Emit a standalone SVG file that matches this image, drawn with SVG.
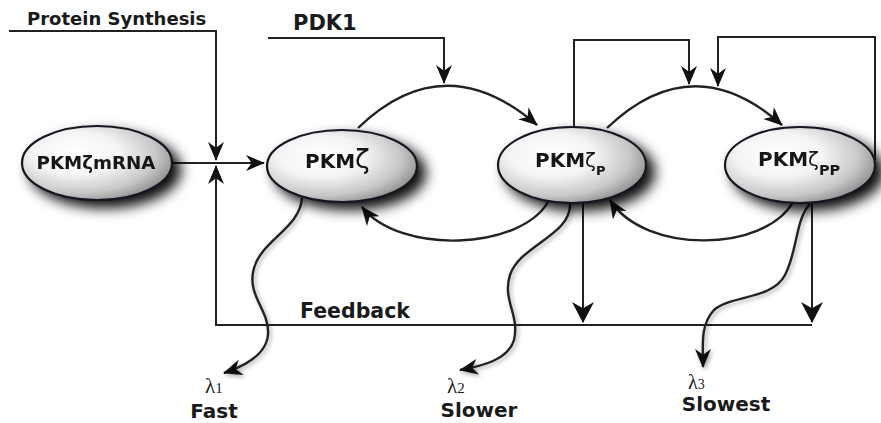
<svg xmlns="http://www.w3.org/2000/svg" width="881" height="423" viewBox="0 0 881 423">
<style>
.ln{fill:none;stroke:#222;stroke-width:2}
.arc{fill:none;stroke:#222;stroke-width:2.4}
.lbl{font-family:"DejaVu Sans",sans-serif;font-weight:bold;fill:#1a1a1a}
.lam{font-family:"Liberation Serif",serif;fill:#1a1a1a}
.node ellipse{fill:url(#eg);stroke:#141420;stroke-width:2.2}
.nt{font-family:"DejaVu Sans",sans-serif;font-weight:bold;fill:#141414}
.zeta{font-family:"DejaVu Sans",sans-serif;font-weight:normal}
</style>
<defs>
<radialGradient id="eg" cx="0.38" cy="0.4" r="0.72" fx="0.35" fy="0.35">
<stop offset="0" stop-color="#ffffff"/>
<stop offset="0.4" stop-color="#f4f4f4"/>
<stop offset="0.72" stop-color="#c8c8c8"/>
<stop offset="1" stop-color="#7a7a7a"/>
</radialGradient>
<filter id="sh" x="-30%" y="-40%" width="170%" height="190%">
<feGaussianBlur in="SourceAlpha" stdDeviation="6.5"/>
<feOffset dx="8" dy="7" result="b"/>
<feFlood flood-color="#000" flood-opacity="0.95"/>
<feComposite in2="b" operator="in"/>
<feMerge><feMergeNode/><feMergeNode in="SourceGraphic"/></feMerge>
</filter>
<filter id="lsh" x="-20%" y="-20%" width="140%" height="140%">
<feGaussianBlur in="SourceAlpha" stdDeviation="2"/>
<feOffset dx="2" dy="2" result="b"/>
<feFlood flood-color="#000" flood-opacity="0.35"/>
<feComposite in2="b" operator="in"/>
<feMerge><feMergeNode/><feMergeNode in="SourceGraphic"/></feMerge>
</filter>
<marker id="ah" viewBox="0 0 20 18" refX="19" refY="9" markerWidth="19" markerHeight="16" markerUnits="userSpaceOnUse" orient="auto" preserveAspectRatio="none">
<path d="M0,0 L20,9 L0,18 L6,9 Z" fill="#111"/>
</marker>
<marker id="ahb" viewBox="0 0 20 18" refX="19" refY="9" markerWidth="21" markerHeight="22" markerUnits="userSpaceOnUse" orient="auto" preserveAspectRatio="none">
<path d="M0,0 L20,9 L0,18 L6,9 Z" fill="#111"/>
</marker>
</defs>
<rect width="881" height="423" fill="#fff"/>

<g id="connectors">
<path class="ln" d="M9,31 H216 V160" marker-end="url(#ah)"/>
<path class="ln" d="M268,38 H444 V83" marker-end="url(#ah)"/>
<path class="ln" d="M172,163 H264" marker-end="url(#ah)"/>
<path class="ln" d="M812,325 H216 V166" marker-end="url(#ah)"/>
<path class="ln" d="M574,128 V40 H689 V84" marker-end="url(#ah)"/>
<path class="ln" d="M875,160 V37 H718 V86" marker-end="url(#ah)"/>
<path class="ln" d="M583,203 V322" marker-end="url(#ahb)"/>
<path class="ln" d="M812,203 V322" marker-end="url(#ahb)"/>
<path class="arc" d="M358,128 Q444,45 537,125" marker-end="url(#ah)"/>
<path class="arc" d="M607,128 Q693,46 782,125" marker-end="url(#ah)"/>
<path class="arc" d="M548,202 C520,250 400,255 362,207" marker-end="url(#ah)"/>
<path class="arc" d="M793,202 C765,252 645,255 610,200" marker-end="url(#ah)"/>
<g filter="url(#lsh)">
<path class="arc" d="M302,198 C300,228 262,240 254,268 C246,296 270,310 268,335 C266,355 245,366 224,373" marker-end="url(#ah)"/>
<path class="arc" d="M570,203 C572,235 520,245 510,275 C502,300 520,315 514,340 C508,360 482,366 460,370" marker-end="url(#ah)"/>
<path class="arc" d="M810,204 C795,220 798,250 785,275 C772,300 730,295 714,310 C700,325 703,345 703,367" marker-end="url(#ah)"/>
</g>
</g>

<g id="node-mrna" class="node" filter="url(#sh)">
<ellipse cx="97" cy="163" rx="75" ry="37"/>
<text class="nt" x="96" y="169" font-size="17.5" text-anchor="middle" textLength="119" lengthAdjust="spacingAndGlyphs">PKMζmRNA</text>
</g>
<g id="node-pkmz" class="node" filter="url(#sh)">
<ellipse cx="342" cy="166" rx="75" ry="36"/>
<text class="nt" x="305" y="168" font-size="20">PKM<tspan class="zeta" font-size="27">ζ</tspan></text>
</g>
<g id="node-pkmzp" class="node" filter="url(#sh)">
<ellipse cx="572" cy="165" rx="74" ry="38"/>
<text class="nt" x="535" y="167" font-size="20">PKM<tspan class="zeta" font-size="20">ζ</tspan><tspan font-size="13" dy="8">P</tspan></text>
</g>
<g id="node-pkmzpp" class="node" filter="url(#sh)">
<ellipse cx="800" cy="165" rx="75" ry="38"/>
<text class="nt" x="758" y="166" font-size="20">PKM<tspan class="zeta" font-size="20">ζ</tspan><tspan font-size="14.5" dy="9">PP</tspan></text>
</g>

<g id="labels">
<text class="lbl" x="27" y="25" font-size="18">Protein Synthesis</text>
<text class="lbl" x="293" y="30" font-size="21">PDK1</text>
<text class="lbl" x="300" y="318" font-size="20.5">Feedback</text>
<text class="lam" x="205" y="393" font-size="21">λ<tspan font-size="15">1</tspan></text>
<text class="lam" x="447" y="393" font-size="21">λ<tspan font-size="15">2</tspan></text>
<text class="lam" x="688" y="389" font-size="20">λ<tspan font-size="14">3</tspan></text>
<text class="lbl" x="214" y="418" font-size="20" text-anchor="middle">Fast</text>
<text class="lbl" x="479" y="417" font-size="20" text-anchor="middle">Slower</text>
<text class="lbl" x="726" y="411" font-size="20" text-anchor="middle">Slowest</text>
</g>
</svg>
